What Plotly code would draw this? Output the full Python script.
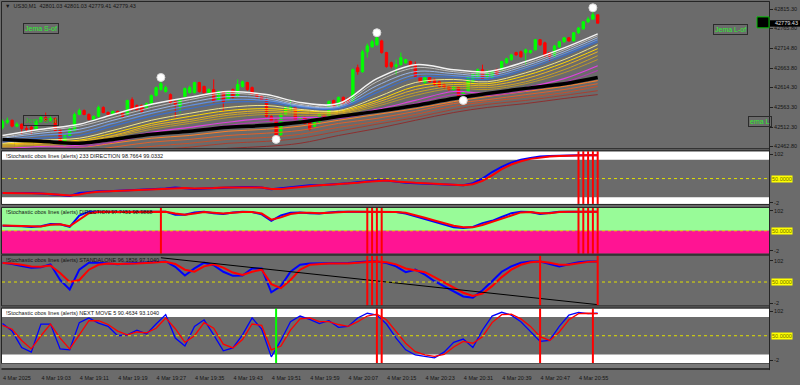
import plotly.graph_objects as go

# ---------------- data ----------------
TIME_LABELS = ["4 Mar 2025", "4 Mar 19:03", "4 Mar 19:11", "4 Mar 19:19", "4 Mar 19:27",
               "4 Mar 19:35", "4 Mar 19:43", "4 Mar 19:51", "4 Mar 19:59", "4 Mar 20:07",
               "4 Mar 20:15", "4 Mar 20:23", "4 Mar 20:31", "4 Mar 20:39", "4 Mar 20:47",
               "4 Mar 20:55"]
TICK_BARS = [0, 8, 16, 24, 32, 40, 48, 56, 64, 72, 80, 88, 96, 104, 112, 120]
PRICE_TICKS = [42815.30, 42765.80, 42714.80, 42663.80, 42614.30, 42563.30, 42512.30, 42462.80]
PRICE_TICK_TEXT = ["42815.30", "42765.80", "42714.80", "42663.80", "42614.30", "42563.30", "42512.30", "42462.80"]

BARS = list(range(125))
OPEN = [42512,42525,42530,42515,42520,42509,42512,42507,42527,42537,
        42530,42535,42504,42466,42491,42504,42545,42555,42545,42532,
        42540,42563,42550,42545,42553,42548,42545,42583,42568,42568,
        42563,42571,42594,42609,42604,42596,42578,42566,42591,42601,
        42601,42627,42617,42601,42609,42583,42604,42583,42609,42591,
        42617,42627,42614,42596,42591,42583,42540,42530,42494,42545,
        42558,42563,42530,42537,42525,42515,42527,42543,42537,42581,
        42566,42589,42586,42578,42665,42655,42706,42719,42724,42734,
        42704,42678,42668,42673,42678,42681,42673,42642,42627,42640,
        42635,42629,42622,42617,42609,42614,42591,42604,42629,42640,
        42660,42642,42640,42660,42660,42678,42686,42704,42706,42704,
        42704,42711,42737,42729,42704,42696,42719,42732,42742,42734,
        42755,42765,42783,42790,42801.03]
HIGH = [42532,42537,42532,42525,42522,42515,42517,42532,42543,42550,
        42540,42537,42507,42494,42512,42550,42560,42558,42548,42543,
        42568,42566,42553,42555,42555,42550,42583,42589,42571,42571,
        42576,42596,42617,42632,42619,42599,42581,42586,42614,42619,
        42629,42629,42619,42612,42635,42606,42606,42606,42612,42635,
        42632,42629,42617,42599,42594,42586,42543,42532,42550,42568,
        42583,42566,42540,42540,42527,42540,42548,42545,42581,42583,
        42591,42591,42589,42663,42673,42711,42727,42737,42747,42737,
        42706,42681,42686,42704,42688,42683,42681,42645,42645,42642,
        42637,42632,42624,42619,42619,42617,42606,42642,42650,42663,
        42673,42660,42658,42663,42683,42691,42701,42706,42709,42714,
        42711,42739,42739,42732,42706,42724,42734,42744,42744,42757,
        42770,42785,42796,42808,42801.03]
LOW = [42507,42520,42512,42512,42494,42502,42494,42504,42525,42527,
       42527,42502,42471,42461,42489,42502,42543,42543,42530,42530,
       42537,42548,42540,42543,42545,42537,42543,42555,42555,42550,
       42560,42568,42591,42606,42601,42573,42537,42550,42589,42599,
       42599,42601,42599,42599,42576,42581,42553,42581,42586,42589,
       42614,42606,42594,42586,42581,42537,42525,42486,42489,42543,
       42555,42530,42527,42520,42504,42512,42520,42530,42535,42560,
       42563,42571,42568,42576,42647,42652,42691,42716,42721,42701,
       42665,42663,42647,42670,42675,42668,42640,42627,42624,42627,
       42619,42614,42612,42606,42606,42589,42586,42601,42627,42637,
       42635,42635,42637,42645,42658,42675,42683,42696,42691,42673,
       42701,42709,42721,42693,42681,42693,42716,42729,42732,42732,
       42752,42762,42780,42788,42779.41]
CLOSE = [42527,42530,42515,42520,42509,42507,42507,42527,42537,42530,
         42535,42504,42474,42491,42507,42545,42555,42545,42532,42540,
         42563,42550,42545,42553,42548,42540,42581,42558,42558,42553,
         42573,42594,42614,42624,42614,42576,42571,42583,42612,42614,
         42627,42604,42601,42609,42578,42604,42578,42604,42589,42622,
         42629,42609,42596,42591,42583,42540,42527,42489,42545,42563,
         42566,42532,42537,42522,42507,42537,42545,42532,42578,42563,
         42589,42573,42571,42660,42655,42706,42721,42732,42742,42704,
         42668,42668,42673,42691,42686,42670,42642,42629,42642,42629,
         42622,42617,42614,42609,42617,42591,42604,42640,42647,42660,
         42637,42652,42655,42647,42681,42688,42698,42698,42693,42711,
         42709,42737,42724,42696,42693,42721,42732,42742,42734,42755,
         42767,42783,42790,42801,42779.43]

FRACTAL_BARS = [33, 57, 78, 96, 123]
FRACTAL_PRICES = [42640, 42481, 42755, 42581, 42819]

# moving-average ribbon, read at these bars
MA_BARS = [0, 8, 16, 23, 31, 39, 47, 55, 62, 70, 78, 86, 94, 101, 109, 117, 124]
ma_white = [42491,42507,42520,42545,42571,42589,42604,42596,42576,42573,42637,42673,42660,42655,42681,42716,42752]
ma_silver = [42486,42502,42515,42537,42563,42583,42599,42591,42571,42568,42629,42665,42655,42650,42675,42711,42747]
ma_blue1 = [42484,42497,42507,42530,42555,42576,42591,42586,42568,42566,42619,42655,42650,42645,42670,42706,42742]
ma_blue2 = [42479,42491,42499,42522,42548,42568,42583,42581,42566,42563,42609,42647,42645,42640,42665,42701,42737]
ma_blue3 = [42474,42484,42491,42515,42540,42560,42576,42576,42563,42560,42601,42640,42640,42635,42660,42696,42732]
ma_gold1 = [42471,42479,42484,42504,42530,42548,42563,42568,42558,42555,42589,42627,42635,42629,42652,42686,42724]
ma_gold2 = [42469,42474,42479,42497,42522,42540,42555,42560,42555,42553,42581,42617,42627,42624,42645,42678,42714]
ma_gold3 = [42466,42471,42476,42491,42517,42532,42548,42555,42550,42550,42576,42609,42622,42619,42637,42670,42706]
ma_gold4 = [42463,42469,42474,42489,42512,42527,42543,42550,42548,42548,42571,42601,42617,42614,42629,42660,42696]
ma_gold5 = [42461,42466,42471,42486,42507,42522,42537,42545,42543,42545,42566,42594,42612,42609,42624,42652,42686]
ma_mag1 = [42456,42463,42466,42479,42499,42512,42525,42535,42537,42540,42558,42581,42604,42599,42614,42637,42670]
ma_mag2 = [42453,42458,42461,42474,42494,42504,42517,42527,42532,42535,42553,42573,42596,42594,42606,42627,42658]
ma_black = [42481,42476,42471,42481,42494,42502,42512,42517,42525,42540,42553,42568,42586,42599,42612,42624,42640]
ma_org1 = [42474,42466,42461,42471,42484,42491,42502,42507,42515,42530,42545,42560,42578,42591,42604,42617,42632]
ma_org2 = [42463,42456,42451,42461,42474,42481,42491,42497,42504,42522,42535,42553,42573,42583,42596,42609,42624]
ma_org3 = [42453,42446,42440,42451,42463,42471,42481,42486,42494,42512,42527,42545,42566,42578,42589,42601,42617]
ma_org4 = [42443,42435,42430,42440,42453,42461,42471,42476,42484,42502,42520,42537,42558,42571,42581,42594,42606]
ma_org5 = [42430,42423,42417,42428,42440,42448,42458,42463,42471,42491,42509,42530,42550,42563,42573,42586,42596]

# stochastic panels, read every second bar
STOCH_BARS = list(range(0, 125, 2))
p1_main = [19,19,20,19,18,17,15,13,19,21,23,23,24,24,25,26,27,29,31,29,28,29,30,31,32,32,32,31,27,29,31,34,36,36,37,38,40,42,44,46,46,43,41,40,39,38,37,36,36,40,50,64,75,84,90,94,97,98,99,100,100,100,100]
p1_sig = [19,19,19,19,18,17,16,14,16,20,22,23,23,24,25,26,27,28,30,30,29,29,30,31,31,32,32,31,28,28,30,32,35,36,37,38,39,41,43,45,46,44,42,41,40,39,38,37,36,38,45,57,70,80,87,92,95,97,98,99,100,100,100]
p2_main = [63,63,62,60,62,68,67,60,90,100,100,100,99,100,100,100,100,100,92,92,98,100,96,94,98,100,99,93,76,90,97,98,96,95,98,100,100,100,100,100,100,99,95,88,80,74,66,59,57,60,70,76,86,96,100,99,94,97,100,100,100,100,100]
p2_sig = [64,63,63,61,61,66,67,62,80,96,99,100,99,99,100,100,100,100,95,92,95,99,97,95,97,99,99,95,79,85,94,97,97,96,97,99,100,100,100,100,100,99,97,91,84,77,70,63,59,59,65,73,81,91,98,99,96,96,99,100,100,100,100]
p3_main = [97,94,89,85,86,93,55,32,80,97,97,95,93,95,96,97,98,100,87,66,83,97,91,75,65,66,83,83,25,40,75,92,95,95,95,95,96,98,100,100,96,88,74,80,68,52,40,26,15,12,30,52,75,88,97,100,100,94,88,93,98,100,100]
p3_sig = [96,95,92,88,87,90,72,50,55,80,92,95,94,94,95,96,97,99,94,80,75,88,93,85,73,67,75,80,45,35,55,80,92,94,95,95,95,97,99,100,98,93,83,79,74,62,49,36,24,16,22,40,62,80,92,98,100,97,92,92,95,99,100]
p4_main = [76,60,25,15,75,75,22,20,78,88,77,70,50,52,62,54,75,95,45,28,70,84,52,18,24,52,88,64,5,40,80,92,85,76,82,68,70,88,98,94,75,45,20,9,6,3,15,36,43,25,62,92,100,94,80,60,38,40,70,94,100,97,98]
p4_sig = [72,64,40,22,50,75,45,22,52,82,82,74,60,52,58,56,66,88,65,36,50,78,66,32,24,42,75,72,20,28,62,86,88,80,80,74,70,80,92,96,84,60,34,16,9,6,10,26,38,34,48,78,95,96,86,70,48,40,58,84,97,98,97]

P3_TREND_BARS = [33, 124]
P3_TREND_VALS = [109, -5]

P1_ALERTS = [120, 121, 122, 123, 124]
P2_ALERTS = [33, 76, 77, 78, 79, 120, 121, 122, 123, 124]
P3_ALERTS = [76, 77, 78, 79, 112, 124]
P4_ALERTS = [78, 79, 112, 123]
P4_GREEN = [57]

PANEL_TITLES = ["!Stochastic obos lines (alerts) 233 DIRECTION 98.7664 99.0332",
                "!Stochastic obos lines (alerts) DIRECTION 97.7451 98.9868",
                "!Stochastic obos lines (alerts) STANDALONE 96.1826 97.1040",
                "!Stochastic obos lines (alerts) NEXT MOVE 5 90.4634 93.1040"]
CHART_TITLE = "\u25bc  US30,M1  42801.03 42801.03 42779.41 42779.43"
LAST_PRICE = "42779.43"

# ---------------- layout helpers ----------------
W, H = 800, 385
def fx(p):
    return p / W
def fy(p):
    return 1 - p / H

BG = "#6b6b6b"
FONT = "Liberation Sans"
X_DOM = [fx(2), fx(769)]
PANEL_PX = {"y": (2, 149), "y2": (152, 205), "y3": (209, 255), "y4": (257, 307), "y5": (310, 365)}
RANGES = {"y": [42458.3, 42833.9], "y2": [-4.12, 108.37], "y3": [-9.8, 109.8],
          "y4": [-6.84, 114.1], "y5": [-8.37, 108.37]}

fig = go.Figure()

ribbon = [
    (ma_org5, "#8c3030", 1), (ma_org4, "#a84030", 1), (ma_org3, "#c8502a", 1),
    (ma_org2, "#e0602a", 1), (ma_org1, "#ff7f27", 1),
    (ma_mag2, "#b03cb0", 1.2), (ma_mag1, "#e040e0", 1.2),
    (ma_gold5, "#b8962e", 1), (ma_gold4, "#c9a227", 1), (ma_gold3, "#e6b422", 1),
    (ma_gold2, "#ffd700", 1), (ma_gold1, "#f0e68c", 1),
    (ma_blue3, "#3c6ec8", 1.2), (ma_blue2, "#5f8fe0", 1.2), (ma_blue1, "#9ab6e6", 1),
    (ma_silver, "#bdbdbd", 1), (ma_white, "#f4f4f4", 1.5),
    (ma_black, "#000000", 3.5),
]
for vals, col, wd in ribbon:
    fig.add_trace(go.Scatter(x=MA_BARS, y=vals, mode="lines",
                             line=dict(color=col, width=wd, shape="spline", smoothing=1.0),
                             xaxis="x", yaxis="y", showlegend=False, hoverinfo="skip"))

fig.add_trace(go.Candlestick(
    x=BARS, open=OPEN, high=HIGH, low=LOW, close=CLOSE,
    increasing=dict(line=dict(color="#00ff00", width=1), fillcolor="#00ff00"),
    decreasing=dict(line=dict(color="#ff0000", width=1), fillcolor="#ff0000"),
    whiskerwidth=0, xaxis="x", yaxis="y", showlegend=False, hoverinfo="skip"))

fig.add_trace(go.Scatter(x=FRACTAL_BARS, y=FRACTAL_PRICES, mode="markers",
                         marker=dict(size=8, color="#ffffff", line=dict(color="#d8d8d8", width=1)),
                         xaxis="x", yaxis="y", showlegend=False, hoverinfo="skip"))

for ax, main, sig, wd in [("y2", p1_main, p1_sig, 2), ("y3", p2_main, p2_sig, 2),
                          ("y4", p3_main, p3_sig, 2), ("y5", p4_main, p4_sig, 1.3)]:
    fig.add_trace(go.Scatter(x=STOCH_BARS, y=main, mode="lines",
                             line=dict(color="#0000ff", width=wd), xaxis="x", yaxis=ax,
                             showlegend=False, hoverinfo="skip"))
    fig.add_trace(go.Scatter(x=STOCH_BARS, y=sig, mode="lines",
                             line=dict(color="#ff0000", width=wd), xaxis="x", yaxis=ax,
                             showlegend=False, hoverinfo="skip"))

fig.add_trace(go.Scatter(x=P3_TREND_BARS, y=P3_TREND_VALS, mode="lines",
                         line=dict(color="#000000", width=1), xaxis="x", yaxis="y4",
                         showlegend=False, hoverinfo="skip"))

shapes = []
def band(ax, y0, y1, col):
    shapes.append(dict(type="rect", xref="paper", yref=ax, x0=X_DOM[0], x1=X_DOM[1],
                       y0=y0, y1=y1, fillcolor=col, line=dict(width=0), layer="below"))
band("y2", 90, RANGES["y2"][1], "#ffffff")
band("y2", RANGES["y2"][0], 10, "#ffffff")
band("y3", 50, RANGES["y3"][1], "#98fb98")
band("y3", RANGES["y3"][0], 50, "#ff1493")
band("y5", 90, RANGES["y5"][1], "#ffffff")
band("y5", RANGES["y5"][0], 10, "#ffffff")

for ax in ["y2", "y3", "y4", "y5"]:
    shapes.append(dict(type="line", xref="paper", yref=ax, x0=X_DOM[0], x1=X_DOM[1],
                       y0=50, y1=50, line=dict(color="#e0e000", width=1, dash="dot")))

def alerts(ax, bars, col):
    for b in bars:
        shapes.append(dict(type="line", xref="x", yref=ax + " domain", x0=b, x1=b, y0=0, y1=1,
                           line=dict(color=col, width=2)))
alerts("y2", P1_ALERTS, "#ff0000")
alerts("y3", P2_ALERTS, "#ff0000")
alerts("y4", P3_ALERTS, "#ff0000")
alerts("y5", P4_ALERTS, "#ff0000")
alerts("y5", P4_GREEN, "#00ff00")

for ax, (t, b) in PANEL_PX.items():
    shapes.append(dict(type="rect", xref="paper", yref="paper", x0=fx(1.5), x1=fx(769.5),
                       y0=fy(b + 0.5), y1=fy(t - 0.5), line=dict(color="#252525", width=1)))
shapes.append(dict(type="rect", xref="paper", yref="paper", x0=fx(1.5), x1=fx(769.5),
                   y0=fy(370.5), y1=fy(365.5), fillcolor="#7a7a7a", line=dict(width=0)))
shapes.append(dict(type="line", xref="paper", yref="paper", x0=fx(1.5), x1=fx(769.5),
                   y0=fy(371), y1=fy(371), line=dict(color="#202020", width=1.5)))
shapes.append(dict(type="line", xref="paper", yref="paper", x0=fx(769.5), x1=fx(769.5),
                   y0=fy(372), y1=fy(1.5), line=dict(color="#252525", width=1)))
shapes.append(dict(type="rect", xref="paper", yref="paper", x0=fx(757), x1=fx(769),
                   y0=fy(28), y1=fy(17), fillcolor="#000000", line=dict(color="#00c000", width=1)))
shapes.append(dict(type="rect", xref="paper", yref="paper", x0=fx(770), x1=fx(800),
                   y0=fy(26.8), y1=fy(20.4), fillcolor="#000000", line=dict(width=0)))

ann = []
ann.append(dict(x=fx(3), y=fy(6.5), xref="paper", yref="paper", text=CHART_TITLE, showarrow=False,
                xanchor="left", yanchor="middle", font=dict(family=FONT, size=5.5, color="#151515")))
for ax, title, py in zip(["y2", "y3", "y4", "y5"], PANEL_TITLES, [156.5, 213.5, 261, 315]):
    ann.append(dict(x=fx(4), y=fy(py), xref="paper", yref="paper", text=title, showarrow=False,
                    xanchor="left", yanchor="middle", font=dict(family=FONT, size=5.5, color="#151515")))
    ann.append(dict(x=fx(771), y=50, xref="paper", yref=ax, text="50.0000", showarrow=False,
                    xanchor="left", yanchor="middle", bgcolor="#ffff00", borderpad=0,
                    font=dict(family=FONT, size=5.5, color="#707000")))

def box(cx, cy, text, col):
    ann.append(dict(x=fx(cx), y=fy(cy), xref="paper", yref="paper", text=text, showarrow=False,
                    xanchor="center", yanchor="middle", bordercolor="#2b2b2b", borderwidth=1,
                    borderpad=1, font=dict(family=FONT, size=7, color=col)))
box(41, 29, "Jema S-of", "#30ee30")
box(730, 29.5, "Jema L-of", "#30ee30")
box(40.5, 121.5, "Jema S-of", "#28b828")
box(759.5, 122, "ema L", "#30ee30")

ann.append(dict(x=fx(772.5), y=fy(23.6), xref="paper", yref="paper", text=LAST_PRICE, showarrow=False,
                xanchor="left", yanchor="middle", font=dict(family=FONT, size=5.5, color="#e0e0e0")))

axis_font = dict(family=FONT, size=5.5, color="#151515")
layout = dict(
    width=W, height=H, margin=dict(l=0, r=0, t=0, b=0),
    paper_bgcolor=BG, plot_bgcolor=BG, showlegend=False, hovermode=False,
    shapes=shapes, annotations=ann,
    xaxis=dict(domain=X_DOM, range=[-0.104, 159.69], anchor="y5", tickmode="array",
               tickvals=TICK_BARS, ticktext=TIME_LABELS, ticks="outside", ticklen=3,
               tickcolor="#202020", tickfont=axis_font, ticklabelposition="outside right",
               ticklabelstandoff=9, tickangle=0, showgrid=False, zeroline=False, showline=False,
               rangeslider=dict(visible=False), fixedrange=True),
)
for ax, (t, b) in PANEL_PX.items():
    key = "yaxis" if ax == "y" else "yaxis" + ax[1:]
    if ax == "y":
        tv, tt = PRICE_TICKS, PRICE_TICK_TEXT
    else:
        tv, tt = [102, -2], ["102", "-2"]
    layout[key] = dict(domain=[fy(b), fy(t)], range=RANGES[ax], anchor="x", side="right",
                       tickmode="array", tickvals=tv, ticktext=tt, ticks="outside", ticklen=3,
                       tickcolor="#202020", tickfont=axis_font, showgrid=False, zeroline=False,
                       showline=False, fixedrange=True)
fig.update_layout(**layout)

fig.write_html("out.html")
